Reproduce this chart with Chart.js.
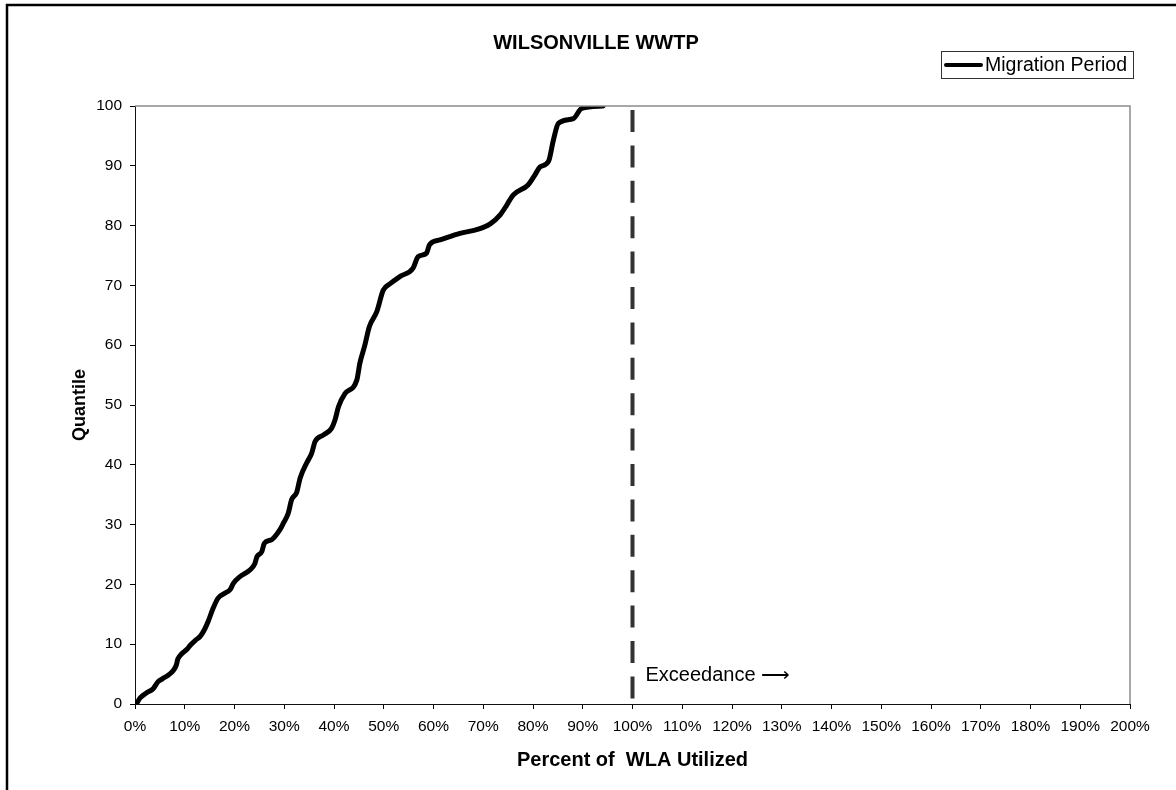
<!DOCTYPE html>
<html>
<head>
<meta charset="utf-8">
<title>Wilsonville WWTP</title>
<script src="https://cdn.jsdelivr.net/npm/chart.js@4.4.1/dist/chart.umd.min.js"></script>
<style>
  html, body { margin: 0; padding: 0; background: #fff; }
  #wrap { width: 1176px; height: 790px; }
</style>
</head>
<body>
<div id="wrap"><canvas id="c" width="1176" height="790"></canvas></div>
<script>
// Cumulative distribution of WLA utilization during the migration period
const pctUtilized = [0.3, 1.0, 2.2, 3.7, 4.6, 5.5, 6.8, 7.7, 8.3, 8.6, 9.4, 10.5, 11.2, 12.2, 13.1, 14.0,
  14.7, 15.7, 16.7, 18.0, 19.1, 19.8, 21.1, 23.1, 24.1, 24.5, 25.5, 26.0, 27.5, 29.1, 29.8, 30.8,
  31.5, 32.5, 33.2, 34.5, 35.5, 36.2, 37.9, 39.5, 40.2, 40.9, 42.2, 44.6, 45.2, 46.2, 47.1, 48.6,
  49.9, 51.3, 53.3, 55.9, 56.9, 58.6, 59.2, 61.3, 65.3, 69.0, 71.4, 73.4, 74.7, 76.0, 79.0, 80.4,
  81.4, 83.1, 84.1, 85.1, 88.1, 89.8, 94.1];
const quantile = [0, 1.0, 1.8, 2.6, 3.7, 4.2, 4.9, 5.6, 6.5, 7.5, 8.4, 9.2, 9.9, 10.7, 11.3, 12.5,
  13.8, 16.0, 17.7, 18.5, 19.1, 20.2, 21.3, 22.4, 23.5, 24.6, 25.5, 26.9, 27.5, 29.1, 30.2, 31.9,
  34.2, 35.4, 37.8, 40.3, 41.9, 43.9, 45.0, 46.1, 47.5, 49.7, 51.9, 54.2, 57.0, 60.0, 63.1, 65.6,
  69.2, 70.3, 71.5, 72.9, 74.8, 75.4, 76.8, 77.6, 78.7, 79.4, 80.3, 81.8, 83.4, 85.1, 86.8, 88.5,
  89.8, 90.7, 94.3, 97.1, 97.9, 99.6, 100];

// 100% utilization threshold (vertical dashed marker), drawn top to bottom
const limitPct = [100, 100];
const limitQuantile = [100, 0];

// Axis ranges and labels
const xTicks = [0, 200, 10];
const yTicks = [0, 100, 10];
const chartTitle = 'WILSONVILLE WWTP';
const seriesName = 'Migration Period';
const xTitle = 'Percent of  WLA Utilized';
const yTitle = 'Quantile';
const noteText = 'Exceedance \u27F6';

const FONT = "'Liberation Sans', Arial, Helvetica, sans-serif";
Chart.defaults.font.family = FONT;
Chart.defaults.color = '#000';

const toPoints = (xs, ys) => xs.map((x, i) => ({ x: x, y: ys[i] }));

// Frame, chart heading, legend box and note drawn around the plot
const decorations = {
  id: 'decorations',
  beforeDraw(chart) {
    const ctx = chart.ctx;
    ctx.save();
    ctx.fillStyle = '#fff';
    ctx.fillRect(0, 0, chart.width, chart.height);
    ctx.restore();
  },
  afterDraw(chart) {
    const ctx = chart.ctx;
    const a = chart.chartArea;
    ctx.save();

    // light plot-area border on top and right
    ctx.strokeStyle = '#8c8c8c';
    ctx.lineWidth = 1.5;
    ctx.beginPath();
    ctx.moveTo(a.left, a.top);
    ctx.lineTo(a.right, a.top);
    ctx.lineTo(a.right, a.bottom);
    ctx.stroke();

    // outer frame
    ctx.strokeStyle = '#000';
    ctx.lineWidth = 2.5;
    ctx.beginPath();
    ctx.moveTo(7, chart.height + 2);
    ctx.lineTo(7, 5);
    ctx.lineTo(chart.width + 2, 5);
    ctx.stroke();

    // heading
    ctx.fillStyle = '#000';
    ctx.font = 'bold 20px ' + FONT;
    ctx.textAlign = 'center';
    ctx.textBaseline = 'middle';
    ctx.fillText(chartTitle, 596, 43);

    // legend
    const lx = 941, ly = 51, lw = 192, lh = 27;
    ctx.strokeStyle = '#333';
    ctx.lineWidth = 1;
    ctx.strokeRect(lx + 0.5, ly + 0.5, lw, lh);
    ctx.strokeStyle = '#000';
    ctx.lineWidth = 4;
    ctx.lineCap = 'round';
    ctx.beginPath();
    ctx.moveTo(lx + 5, ly + lh / 2 + 0.5);
    ctx.lineTo(lx + 40, ly + lh / 2 + 0.5);
    ctx.stroke();
    ctx.font = '19.5px ' + FONT;
    ctx.textAlign = 'left';
    ctx.fillText(chart.data.datasets[1].label, lx + 44, ly + lh / 2 + 1);

    // exceedance note beside the threshold line
    const xs = chart.scales.x;
    ctx.font = '20px ' + FONT;
    ctx.fillText(noteText, xs.getPixelForValue(limitPct[0]) + 13, 675);
    ctx.restore();
  }
};

new Chart(document.getElementById('c'), {
  type: 'line',
  data: {
    datasets: [
      {
        label: 'WLA limit',
        data: toPoints(limitPct, limitQuantile),
        borderColor: '#333',
        borderWidth: 4,
        borderDash: [22, 13.4],
        borderDashOffset: 31.4,
        borderCapStyle: 'butt',
        pointRadius: 0,
        fill: false
      },
      {
        label: seriesName,
        data: toPoints(pctUtilized, quantile),
        borderColor: '#000',
        backgroundColor: '#000',
        borderWidth: 5,
        borderJoinStyle: 'round',
        borderCapStyle: 'round',
        cubicInterpolationMode: 'monotone',
        pointRadius: 0,
        fill: false
      }
    ]
  },
  options: {
    responsive: false,
    animation: false,
    devicePixelRatio: 1,
    layout: { padding: { top: 106, right: 46, left: 60, bottom: 10 } },
    plugins: {
      legend: { display: false },
      title: { display: false },
      tooltip: { enabled: false }
    },
    scales: {
      x: {
        type: 'linear',
        min: xTicks[0], max: xTicks[1],
        ticks: {
          stepSize: xTicks[2],
          autoSkip: false,
          maxRotation: 0,
          padding: 8,
          font: { size: 15.5 },
          callback: v => v + '%'
        },
        grid: { drawOnChartArea: false, drawTicks: true, tickLength: 5, color: '#000' },
        border: { display: true, color: '#111', width: 1 },
        title: { display: true, text: xTitle, font: { size: 20, weight: 'bold' }, padding: { top: 0, bottom: 8 } },
        afterFit(s) { s.height = 76; s.paddingLeft = 0; s.paddingRight = 0; }
      },
      y: {
        type: 'linear',
        min: yTicks[0], max: yTicks[1],
        ticks: {
          stepSize: yTicks[2],
          padding: 8,
          font: { size: 15.5 }
        },
        grid: { drawOnChartArea: false, drawTicks: true, tickLength: 5, color: '#000' },
        border: { display: true, color: '#111', width: 1 },
        title: { display: true, text: yTitle, font: { size: 18, weight: 'bold' }, padding: { top: 9, bottom: 0 } },
        afterFit(s) { s.width = 75; s.paddingTop = 0; s.paddingBottom = 0; }
      }
    }
  },
  plugins: [decorations]
});
</script>
</body>
</html>
